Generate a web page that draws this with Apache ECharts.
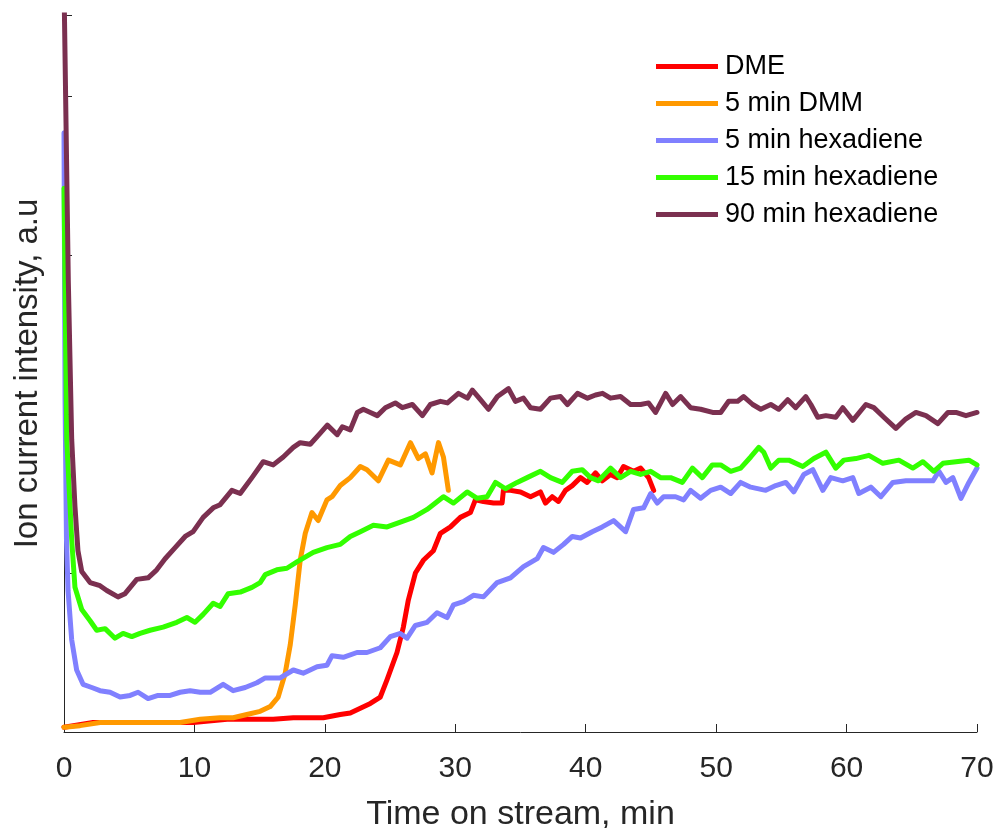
<!DOCTYPE html>
<html>
<head>
<meta charset="utf-8">
<script src="https://cdn.jsdelivr.net/npm/echarts@6/dist/echarts.min.js"></script>
<style>
  html, body { margin: 0; padding: 0; background: #fff; }
  #chart { width: 995px; height: 828px; }
</style>
</head>
<body>
<div id="chart"></div>
<script>
// Ion current traces versus time on stream (min, a.u.)
const seriesNames = ['DME', '5 min DMM', '5 min hexadiene', '15 min hexadiene', '90 min hexadiene'];
const seriesColors = ['#FF0000', '#FF9900', '#8080FF', '#33FF00', '#7B3050'];

const dmeTime = [0, 2.23, 4.84, 7.37, 9.9, 12.51, 14.51, 16.04, 17.58, 18.63, 19.88, 21.18, 21.95, 22.72, 23.49, 24.25, 24.77, 25.53, 26.02, 26.4, 26.94, 27.55, 28.32, 28.86, 29.63, 30.39, 31.16, 31.54, 32.16, 32.93, 33.59, 33.69, 34.23, 35.0, 35.77, 36.53, 36.91, 37.43, 37.91, 38.45, 38.97, 39.6, 40.11, 40.75, 41.27, 41.9, 42.41, 42.9, 43.67, 44.21, 44.82, 45.21];
const dmeValue = [0.03, 0.06, 0.06, 0.06, 0.06, 0.08, 0.08, 0.08, 0.09, 0.09, 0.09, 0.11, 0.12, 0.15, 0.18, 0.22, 0.33, 0.50, 0.66, 0.83, 1.00, 1.08, 1.14, 1.25, 1.29, 1.35, 1.38, 1.46, 1.45, 1.44, 1.44, 1.52, 1.52, 1.51, 1.48, 1.51, 1.44, 1.48, 1.45, 1.52, 1.55, 1.60, 1.57, 1.63, 1.58, 1.62, 1.60, 1.67, 1.64, 1.66, 1.60, 1.52];

const dmmTime = [0, 1.23, 2.76, 4.3, 5.83, 7.37, 8.9, 10.44, 11.97, 12.97, 14.02, 15.04, 15.81, 16.42, 16.96, 17.35, 17.73, 18.11, 18.5, 19.01, 19.49, 20.16, 20.55, 21.18, 21.95, 22.72, 23.23, 24.1, 24.87, 25.79, 26.56, 27.17, 27.71, 28.22, 28.71, 29.09, 29.47];
const dmmValue = [0.03, 0.04, 0.06, 0.06, 0.06, 0.06, 0.06, 0.08, 0.09, 0.09, 0.11, 0.13, 0.16, 0.22, 0.37, 0.55, 0.80, 1.08, 1.25, 1.38, 1.33, 1.46, 1.48, 1.55, 1.60, 1.67, 1.65, 1.58, 1.71, 1.68, 1.82, 1.72, 1.75, 1.63, 1.82, 1.73, 1.52];

const hex5Time = [0, 0.08, 0.19, 0.31, 0.59, 0.97, 1.46, 2.13, 2.76, 3.53, 4.3, 5.07, 5.68, 6.45, 7.21, 8.14, 8.9, 9.67, 10.44, 11.21, 12.2, 12.97, 13.89, 14.79, 15.43, 16.58, 17.58, 18.34, 19.4, 20.16, 20.55, 21.41, 22.46, 23.23, 24.25, 25.02, 25.79, 26.3, 26.94, 27.84, 28.6, 29.37, 29.86, 30.62, 31.39, 32.16, 33.21, 34.23, 35.23, 36.28, 36.76, 37.53, 38.3, 38.97, 39.6, 40.5, 41.27, 42.14, 43.06, 43.67, 44.44, 44.98, 45.49, 45.97, 46.89, 47.51, 48.04, 48.81, 49.58, 50.35, 51.12, 51.88, 52.65, 53.8, 54.57, 55.34, 55.95, 56.72, 57.41, 58.18, 58.79, 59.71, 60.48, 60.94, 61.86, 62.63, 63.55, 64.55, 65.47, 66.62, 67.08, 67.62, 68.15, 68.77, 69.38, 70.0];
const hex5Value = [3.77, 2.09, 1.21, 0.89, 0.58, 0.39, 0.30, 0.28, 0.26, 0.25, 0.22, 0.23, 0.25, 0.21, 0.23, 0.23, 0.25, 0.26, 0.25, 0.25, 0.30, 0.26, 0.28, 0.31, 0.34, 0.34, 0.39, 0.37, 0.41, 0.42, 0.48, 0.47, 0.50, 0.50, 0.53, 0.60, 0.62, 0.59, 0.67, 0.69, 0.75, 0.72, 0.80, 0.82, 0.86, 0.85, 0.94, 0.97, 1.04, 1.09, 1.16, 1.13, 1.18, 1.23, 1.22, 1.26, 1.29, 1.33, 1.26, 1.40, 1.41, 1.50, 1.44, 1.48, 1.48, 1.46, 1.52, 1.47, 1.52, 1.54, 1.50, 1.57, 1.54, 1.52, 1.55, 1.57, 1.51, 1.62, 1.65, 1.52, 1.60, 1.58, 1.60, 1.50, 1.54, 1.48, 1.57, 1.58, 1.58, 1.58, 1.64, 1.57, 1.60, 1.47, 1.57, 1.66];

const hex15Time = [0, 0.21, 0.59, 0.84, 1.36, 2.0, 2.51, 3.15, 3.91, 4.53, 5.2, 5.83, 6.6, 7.6, 8.65, 9.42, 10.05, 10.67, 11.44, 11.97, 12.59, 13.51, 14.41, 15.04, 15.43, 16.32, 17.09, 17.86, 19.11, 20.16, 21.18, 21.95, 22.72, 23.72, 24.77, 25.79, 26.79, 27.84, 29.09, 29.86, 30.91, 31.68, 32.44, 33.08, 33.85, 34.74, 35.51, 36.53, 37.3, 38.2, 38.97, 39.73, 40.37, 40.98, 41.9, 42.67, 43.44, 44.21, 44.98, 45.74, 46.51, 47.41, 48.18, 48.94, 49.71, 50.35, 51.12, 51.88, 52.65, 53.27, 53.65, 54.19, 54.8, 55.57, 56.64, 57.49, 58.41, 59.17, 59.79, 60.71, 61.71, 62.78, 64.01, 65.08, 65.85, 66.69, 67.39, 68.39, 69.38, 70.0];
const hex15Value = [3.42, 1.84, 1.21, 0.91, 0.77, 0.70, 0.64, 0.65, 0.59, 0.62, 0.60, 0.62, 0.64, 0.66, 0.69, 0.72, 0.69, 0.74, 0.81, 0.79, 0.87, 0.88, 0.91, 0.94, 0.99, 1.02, 1.03, 1.07, 1.13, 1.16, 1.18, 1.23, 1.26, 1.30, 1.29, 1.32, 1.35, 1.40, 1.48, 1.44, 1.51, 1.47, 1.48, 1.57, 1.53, 1.57, 1.60, 1.64, 1.60, 1.57, 1.64, 1.65, 1.60, 1.58, 1.66, 1.60, 1.64, 1.62, 1.64, 1.60, 1.60, 1.57, 1.66, 1.60, 1.68, 1.68, 1.64, 1.66, 1.73, 1.79, 1.76, 1.66, 1.71, 1.71, 1.67, 1.72, 1.76, 1.66, 1.71, 1.72, 1.74, 1.69, 1.71, 1.66, 1.70, 1.64, 1.69, 1.70, 1.71, 1.68];

const hex90Time = [0, 0.33, 0.59, 0.84, 1.07, 1.36, 2.0, 2.76, 3.28, 4.14, 4.68, 5.58, 6.45, 7.11, 7.75, 8.52, 9.29, 9.9, 10.67, 11.44, 11.97, 12.87, 13.51, 14.41, 15.27, 16.04, 16.81, 17.58, 18.11, 18.88, 19.65, 20.19, 20.95, 21.34, 21.95, 22.49, 22.95, 23.49, 24.02, 24.64, 25.4, 25.94, 26.71, 27.48, 28.09, 28.86, 29.4, 30.24, 30.93, 31.31, 31.93, 32.54, 33.23, 34.08, 34.61, 35.23, 35.77, 36.53, 37.3, 38.07, 38.6, 39.37, 40.14, 40.75, 41.29, 41.9, 42.67, 43.44, 44.21, 44.82, 45.36, 46.13, 46.66, 47.28, 48.04, 48.81, 49.73, 50.35, 50.96, 51.65, 52.11, 52.8, 53.42, 54.19, 54.8, 55.49, 56.1, 56.87, 57.26, 57.79, 58.41, 59.17, 59.71, 60.48, 61.48, 62.09, 62.86, 63.78, 64.55, 65.32, 66.09, 67.0, 67.77, 68.39, 69.15, 70.0];
const hex90Value = [4.70, 2.84, 1.84, 1.42, 1.14, 1.01, 0.94, 0.92, 0.89, 0.85, 0.87, 0.96, 0.97, 1.02, 1.09, 1.16, 1.23, 1.26, 1.35, 1.41, 1.43, 1.52, 1.50, 1.60, 1.70, 1.68, 1.73, 1.79, 1.82, 1.81, 1.88, 1.93, 1.87, 1.92, 1.90, 2.01, 2.03, 2.01, 1.99, 2.04, 2.07, 2.04, 2.06, 1.99, 2.06, 2.08, 2.07, 2.13, 2.10, 2.15, 2.09, 2.03, 2.11, 2.16, 2.08, 2.10, 2.04, 2.03, 2.10, 2.11, 2.06, 2.13, 2.10, 2.12, 2.13, 2.10, 2.11, 2.06, 2.06, 2.07, 2.01, 2.13, 2.06, 2.11, 2.04, 2.03, 2.01, 2.01, 2.08, 2.08, 2.11, 2.06, 2.03, 2.06, 2.03, 2.09, 2.04, 2.11, 2.06, 1.98, 1.99, 1.98, 2.04, 1.96, 2.06, 2.04, 1.98, 1.91, 1.97, 2.01, 1.99, 1.94, 2.01, 2.01, 1.99, 2.01];

const xTicks = [0, 10, 20, 30, 40, 50, 60, 70];

const traces = [
  [dmeTime, dmeValue],
  [dmmTime, dmmValue],
  [hex5Time, hex5Value],
  [hex15Time, hex15Value],
  [hex90Time, hex90Value]
];

const zip = (t, v) => t.map((x, i) => [x, v[i]]);
const axisColor = '#262626';
const fontFamily = '"Liberation Sans", Arial, Helvetica, sans-serif';

const chart = echarts.init(document.getElementById('chart'), null, { renderer: 'canvas' });

chart.setOption({
  backgroundColor: '#ffffff',
  animation: false,
  textStyle: { fontFamily: fontFamily },
  grid: {
    left: 64, right: 18, top: 15, bottom: 96,
    containLabel: false,
    outerBoundsMode: 'none'
  },
  legend: {
    orient: 'vertical',
    left: 651,
    top: 48,
    itemWidth: 62,
    itemHeight: 5,
    itemGap: 10,
    icon: 'rect',
    data: seriesNames,
    textStyle: {
      fontFamily: fontFamily,
      fontSize: 27,
      lineHeight: 27,
      color: '#000',
      padding: [0, 0, 0, 2]
    }
  },
  xAxis: {
    type: 'value',
    min: xTicks[0],
    max: xTicks[xTicks.length - 1],
    interval: xTicks[1] - xTicks[0],
    name: 'Time on stream, min',
    nameLocation: 'middle',
    nameGap: 66,
    nameTextStyle: { fontSize: 34, color: axisColor, fontFamily: fontFamily },
    axisLine: { show: true, onZero: false, lineStyle: { color: axisColor, width: 1 } },
    axisTick: { show: true, inside: true, length: 8, lineStyle: { color: axisColor, width: 1 } },
    axisLabel: { show: true, margin: 22, fontSize: 30, color: axisColor, fontFamily: fontFamily },
    splitLine: { show: false }
  },
  yAxis: {
    type: 'value',
    min: 0,
    max: 4.51,
    interval: 1,
    name: 'Ion current intensity, a.u',
    nameLocation: 'middle',
    nameGap: 20,
    nameTextStyle: { fontSize: 33, color: axisColor, fontFamily: fontFamily },
    axisLine: { show: true, onZero: false, lineStyle: { color: axisColor, width: 1 } },
    axisTick: { show: true, inside: true, length: 8, lineStyle: { color: axisColor, width: 1 } },
    axisLabel: { show: false },
    splitLine: { show: false }
  },
  series: traces.map((tr, i) => ({
    name: seriesNames[i],
    type: 'line',
    data: zip(tr[0], tr[1]),
    showSymbol: false,
    symbol: 'none',
    smooth: false,
    clip: true,
    color: seriesColors[i],
    lineStyle: { width: 5, color: seriesColors[i], join: 'round', cap: 'round' },
    z: 2 + i
  }))
});
</script>
</body>
</html>
